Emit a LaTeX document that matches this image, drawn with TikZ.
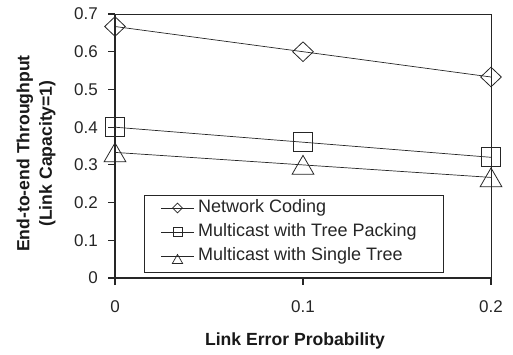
\documentclass[tikz,border=0pt]{standalone}
\usepackage{fontspec}
\setmainfont{Liberation Sans}
\usetikzlibrary{shapes.geometric}
\begin{document}
\begin{tikzpicture}[x=1pt,y=-1pt,
  axisline/.style={line width=1.1pt,black!85},
  dataline/.style={line width=0.7pt,black!85},
  tick/.style={font=\fontsize{17}{20}\selectfont,text=black!85,inner sep=0pt},
  lbl/.style={font=\bfseries\fontsize{17.6}{22.5}\selectfont,text=black!90,inner sep=0pt},
  dmark/.style={diamond,draw=black!85,line width=0.8pt,inner sep=0pt,minimum width=21pt,minimum height=20pt},
  smark/.style={rectangle,draw=black!85,line width=0.8pt,inner sep=0pt,minimum size=19pt},
  tmark/.style={regular polygon,regular polygon sides=3,draw=black!85,line width=0.8pt,inner sep=0pt,minimum size=25pt,yshift=-3pt},
  ldmark/.style={dmark,minimum width=10pt,minimum height=10pt,line width=0.7pt},
  lsmark/.style={smark,minimum size=9pt,line width=0.7pt},
  ltmark/.style={tmark,minimum size=12pt,yshift=-1.5pt,line width=0.7pt},
  legtext/.style={font=\fontsize{18}{20}\selectfont,text=black!85,anchor=west,inner sep=0pt}
]
\useasboundingbox (0,0) rectangle (513,354);
% frame and axes
\coordinate (o) at (115,278);
\coordinate (tl) at (115,14);
\coordinate (tr) at (491,14);
\coordinate (br) at (491,278);
\draw[line width=0.9pt,black!85] (108,14) -- (tr) -- (br);
\draw[axisline] (115,285) -- (tl);
\draw[axisline] (108,278) -- (br);
% y ticks
\foreach \v/\t in {0/0,1/0.1,2/0.2,3/0.3,4/0.4,5/0.5,6/0.6,7/0.7}{
  \draw[axisline] (108,{278-37.714*\v}) -- (115,{278-37.714*\v});
  \node[tick,anchor=east] (yt\v) at (98,{278-37.714*\v}) {\t};
}
% x ticks
\foreach \v/\t/\n in {0/0/a,1/0.1/b,2/0.2/c}{
  \draw[axisline] ({115+188*\v},278) -- ({115+188*\v},285);
  \node[tick,anchor=base] (xt\n) at ({115+188*\v},312) {\t};
}
% data
\coordinate (n0) at (115,26.5);
\coordinate (n1) at (303,51.7);
\coordinate (n2) at (491,77.0);
\coordinate (p0) at (115,127.2);
\coordinate (p1) at (303,142.2);
\coordinate (p2) at (491,157.3);
\coordinate (s0) at (115,152.4);
\coordinate (s1) at (303,164.9);
\coordinate (s2) at (491,177.4);
\draw[dataline] (n0) -- (n1) -- (n2);
\draw[dataline] (p0) -- (p1) -- (p2);
\draw[dataline] (s0) -- (s1) -- (s2);
\foreach \i in {0,1,2}{
  \node[dmark] (mn\i) at (n\i) {};
  \node[smark] (mp\i) at (p\i) {};
  \node[tmark] (ms\i) at (s\i) {};
}
% legend
\draw[line width=0.8pt,black!85,fill=white] (144,195) rectangle (443,272);
\foreach \r/\y/\m/\txt in {1/208/ldmark/Network Coding,2/232/lsmark/Multicast with Tree Packing,3/256/ltmark/Multicast with Single Tree}{
  \coordinate (la\r) at (161,\y);
  \coordinate (lb\r) at (194,\y);
  \draw[dataline] (la\r) -- (lb\r);
  \node[\m] (lm\r) at (177.5,\y) {};
  \node[legtext] (lt\r) at (198,\y) {\txt};
}
% axis labels
\node[lbl,anchor=base] (xl) at (295,345) {Link Error Probability};
\node[lbl,rotate=90,align=center] (yl) at (36,153.5) {End-to-end Throughput\\(Link Capacity=1)};
\end{tikzpicture}
\end{document}
